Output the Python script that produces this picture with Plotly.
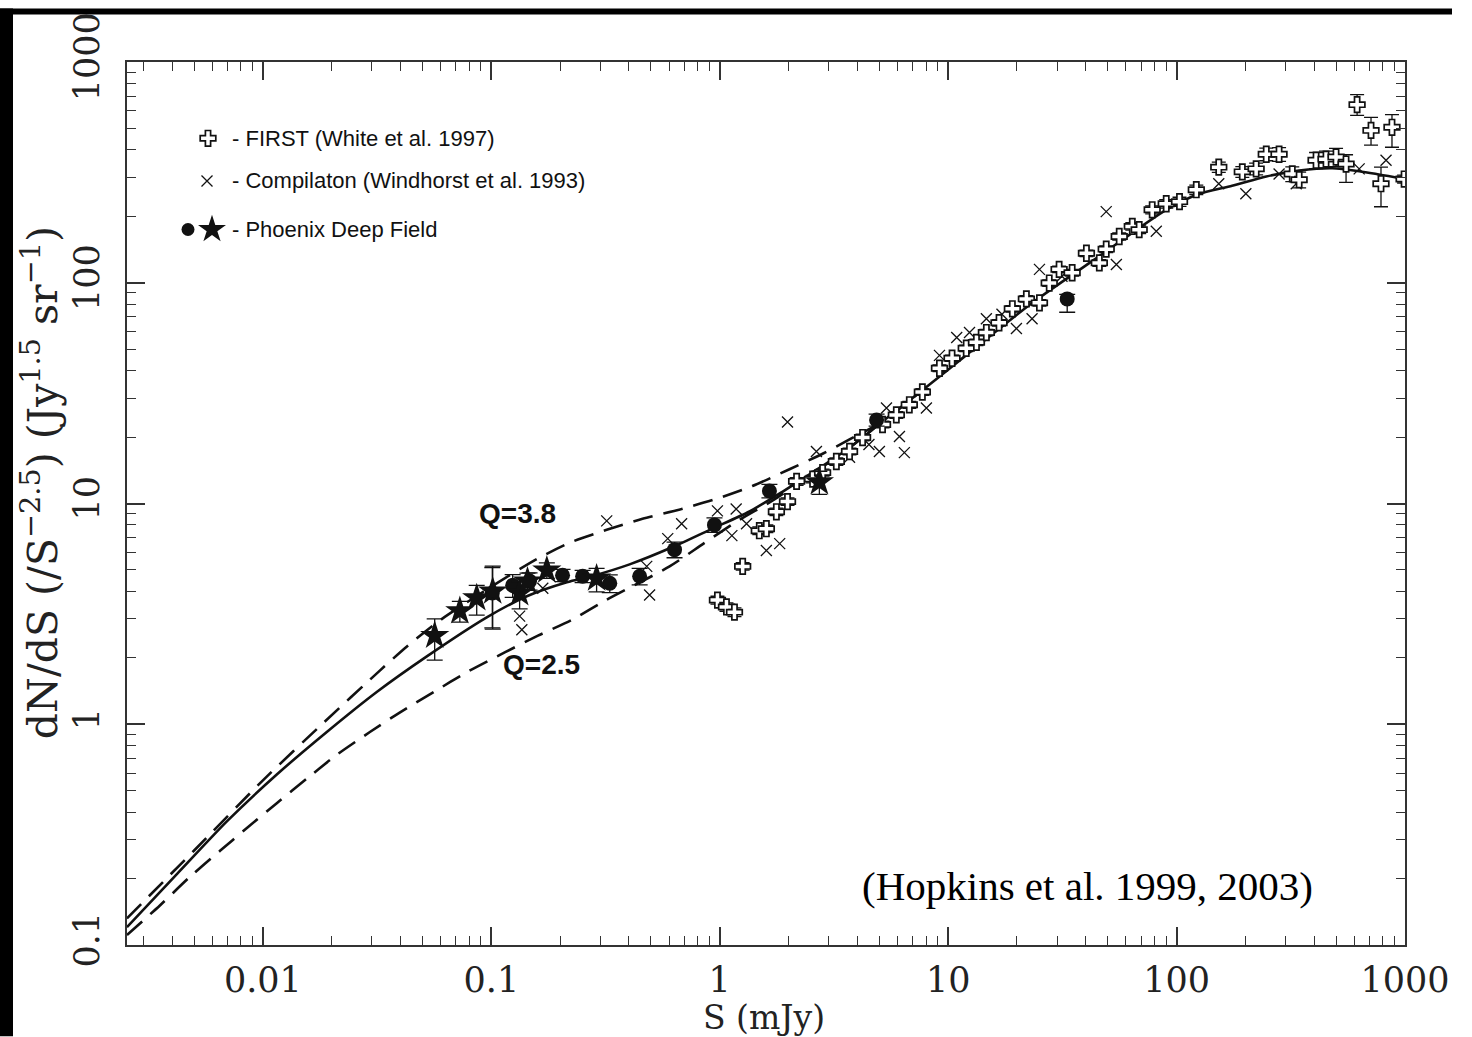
import plotly.graph_objects as go

# ---------------- data ----------------
# model curves
model_S = [0.00254, 0.00421, 0.00697, 0.0115, 0.0191, 0.0315, 0.0522, 0.0955, 0.143, 0.214,
           0.278, 0.403, 0.622, 0.93, 1.35, 1.88, 2.65, 3.70, 5.15, 7.26, 12.0, 23.3, 45.9,
           90.0, 126, 175, 247, 344, 480, 630, 1000]
model_N = [0.1205, 0.210, 0.364, 0.592, 0.925, 1.40, 2.03, 3.05, 3.80, 4.40,
           4.70, 5.30, 6.35, 7.7, 9.2, 11.3, 14.2, 17.9, 23.5, 31.0, 47.0, 81.0, 132,
           214, 253, 275, 303, 322, 330, 320, 295]

q38_S = [0.00254, 0.00500, 0.0100, 0.0185, 0.0325, 0.0427, 0.0594,
         0.100, 0.158, 0.225, 0.320, 0.459, 0.681, 0.968, 1.39, 2.02, 2.82, 3.70, 5.15, 7.26]
q38_N = [0.132, 0.268, 0.557, 1.02, 1.75, 2.25, 2.95,
         4.20, 5.60, 6.70, 7.60, 8.52, 9.44, 10.5, 12.0, 14.3, 16.8, 19.5, 23.5, 31.0]

q25_S = [0.00254, 0.00354, 0.00480, 0.00649, 0.00851, 0.0115, 0.0156, 0.0211, 0.0294, 0.0397,
         0.0560, 0.0780, 0.115, 0.160, 0.225, 0.313, 0.603, 0.849, 1.18, 1.70, 2.17, 2.65,
         3.70, 5.15]
q25_N = [0.111, 0.151, 0.204, 0.267, 0.339, 0.439, 0.568, 0.728, 0.922, 1.13,
         1.40, 1.72, 2.12, 2.52, 2.97, 3.62, 5.19, 6.58, 8.26, 10.3, 12.2, 14.0,
         17.9, 23.5]

# FIRST (White et al. 1997)
first_S = [0.977, 1.07, 1.16, 1.26, 1.49, 1.60, 1.77, 1.98, 2.17, 2.55, 2.82, 3.24, 3.70, 4.22,
           5.16, 5.93, 6.76, 7.71, 9.16, 10.4, 12.0, 13.3, 14.7, 16.7, 19.1, 22.0, 25.1, 27.7,
           30.6, 34.9, 40.3, 45.9, 49.2, 56.1, 64.0, 68.6, 78.2, 90.1, 103, 122, 153, 194,
           223, 247, 281, 321, 344, 408, 451, 499, 552, 617, 710, 785, 877, 991]
first_N = [3.65, 3.40, 3.22, 5.19, 7.53, 7.69, 9.17, 10.2, 12.6, 12.9, 13.8, 15.5, 17.2, 19.9,
           22.8, 25.2, 28.0, 32.0, 41.0, 45.5, 50.5, 53.7, 59.5, 65.9, 76.2, 84.5, 81.1, 99.7,
           115, 111, 136, 123, 142, 162, 180, 174, 214, 228, 233, 264, 334, 318,
           328, 382, 382, 311, 293, 359, 363, 371, 345, 641, 490, 281, 506, 295]
first_err_up = [0.15, 0.15, 0.15, 0.2, 0.3, 0.3, 0.35, 0.4, 0.5, 0.5, 0.5, 0.6, 0.6, 0.7,
                0.8, 0.9, 1.0, 1.1, 1.4, 1.5, 1.7, 1.8, 2.0, 2.2, 2.5, 2.8, 2.8, 3.3,
                3.8, 3.8, 4.5, 4.2, 5, 6, 7, 7, 9, 10, 11, 13, 18, 18,
                20, 25, 27, 24, 24, 30, 32, 35, 35, 70, 71, 53, 72, 12]
first_err_dn = [0.15, 0.15, 0.15, 0.2, 0.3, 0.3, 0.35, 0.4, 0.5, 0.5, 0.5, 0.6, 0.6, 0.7,
                0.8, 0.9, 1.0, 1.1, 1.4, 1.5, 1.7, 1.8, 2.0, 2.2, 2.5, 2.8, 2.8, 3.3,
                3.8, 3.8, 4.5, 4.2, 5, 6, 7, 7, 9, 10, 11, 13, 18, 18,
                20, 25, 27, 24, 24, 30, 32, 35, 60, 68, 70, 60, 95, 12]

# Compilation (Windhorst et al. 1993)
comp_S = [0.133, 0.136, 0.168, 0.320, 0.479, 0.493, 0.592, 0.681, 0.977, 1.13, 1.18, 1.31,
          1.60, 1.83, 1.98, 2.65, 3.70, 4.50, 5.00, 5.37, 6.12, 6.43, 8.03, 9.16, 10.9,
          12.4, 14.7, 17.2, 19.9, 23.3, 25.1, 31.5, 49.2, 54.5, 81.5, 153, 201, 281, 334,
          630, 826]
comp_N = [3.09, 2.68, 4.13, 8.34, 5.19, 3.85, 6.93, 8.09, 9.26, 7.15, 9.44, 8.09,
          6.12, 6.58, 23.4, 17.2, 16.2, 18.5, 17.2, 27.1, 20.1, 17.0, 27.1, 46.9, 56.5,
          59.5, 68.7, 72.0, 62.0, 68.7, 115, 107, 210, 121, 171, 281, 253, 311, 281,
          328, 359]

# Phoenix Deep Field: filled circles
pdf_c_S = [0.101, 0.124, 0.147, 0.205, 0.251, 0.330, 0.446, 0.634, 0.948, 1.65, 4.86, 33.2]
pdf_c_N = [3.93, 4.26, 4.45, 4.73, 4.68, 4.35, 4.68, 6.18, 8.0, 11.4, 23.9, 84.5]
pdf_c_up = [1.2, 0.5, 0.4, 0.3, 0.3, 0.4, 0.4, 0.5, 0.6, 0.8, 1.5, 4]
pdf_c_dn = [1.2, 0.5, 0.4, 0.3, 0.3, 0.4, 0.4, 0.5, 0.6, 0.8, 1.5, 11]

# Phoenix Deep Field: filled stars
pdf_s_S = [0.0565, 0.0728, 0.0863, 0.1014, 0.133, 0.144, 0.175, 0.289, 2.73]
pdf_s_N = [2.52, 3.26, 3.73, 4.0, 3.93, 4.44, 4.98, 4.58, 12.5]
pdf_s_up = [0.48, 0.34, 0.53, 1.2, 0.5, 0.4, 0.4, 0.5, 1.5]
pdf_s_dn = [0.57, 0.36, 0.61, 1.3, 0.6, 0.4, 0.4, 0.6, 1.5]

x_ticks = [0.01, 0.1, 1, 10, 100, 1000]
x_ticktext = ["0.01", "0.1", "1", "10", "100", "1000"]
y_ticks = [0.1, 1, 10, 100, 1000]
y_ticktext = ["0.1", "1", "10", "100", "1000"]

legend_labels = ["- FIRST (White et al. 1997)",
                 "- Compilaton (Windhorst et al. 1993)",
                 "- Phoenix Deep Field"]

# ---------------- figure ----------------
W, H = 1472, 1037
L, R, T, B = 127, 1405, 54, 945


def px(x):
    return (x - L) / (R - L)


def py(y):
    return 1 - (y - T) / (B - T)


INK = "#111111"
SERIF = "DejaVu Serif"
fig = go.Figure()

dash = "20px,11px"
curve_line = dict(color=INK, width=2.6, shape="spline", smoothing=0.7)
fig.add_trace(go.Scatter(x=q38_S, y=q38_N, mode="lines", line=dict(curve_line, dash=dash), showlegend=False))
fig.add_trace(go.Scatter(x=q25_S, y=q25_N, mode="lines", line=dict(curve_line, dash=dash), showlegend=False))
fig.add_trace(go.Scatter(x=model_S, y=model_N, mode="lines", line=curve_line, showlegend=False))

fig.add_trace(go.Scatter(x=comp_S, y=comp_N, mode="markers",
                         marker=dict(symbol="x-thin-open", size=11, color=INK, line=dict(color=INK, width=1.3)),
                         showlegend=False))
fig.add_trace(go.Scatter(x=first_S, y=first_N, mode="markers",
                         marker=dict(symbol="cross", size=13, color="white", line=dict(color=INK, width=1.7)),
                         error_y=dict(type="data", array=first_err_up, arrayminus=first_err_dn,
                                      color=INK, thickness=1.3, width=7),
                         showlegend=False))
fig.add_trace(go.Scatter(x=pdf_c_S, y=pdf_c_N, mode="markers",
                         marker=dict(symbol="circle", size=15, color=INK),
                         error_y=dict(type="data", array=pdf_c_up, arrayminus=pdf_c_dn,
                                      color=INK, thickness=1.3, width=8),
                         showlegend=False))
fig.add_trace(go.Scatter(x=pdf_s_S, y=pdf_s_N, mode="markers",
                         marker=dict(symbol="star", size=22, color=INK),
                         error_y=dict(type="data", array=pdf_s_up, arrayminus=pdf_s_dn,
                                      color=INK, thickness=1.3, width=8),
                         showlegend=False))

# legend key symbols on an overlay unit axis
leg_y = [py(131), py(174), py(223)]
fig.add_trace(go.Scatter(x=[px(208)], y=[leg_y[0]], xaxis="x2", yaxis="y2", mode="markers",
                         marker=dict(symbol="cross", size=13, color="white", line=dict(color=INK, width=1.7)),
                         showlegend=False))
fig.add_trace(go.Scatter(x=[px(207)], y=[leg_y[1]], xaxis="x2", yaxis="y2", mode="markers",
                         marker=dict(symbol="x-thin-open", size=11, color=INK, line=dict(color=INK, width=1.3)),
                         showlegend=False))
fig.add_trace(go.Scatter(x=[px(188)], y=[leg_y[2]], xaxis="x2", yaxis="y2", mode="markers",
                         marker=dict(symbol="circle", size=13, color=INK), showlegend=False))
fig.add_trace(go.Scatter(x=[px(212)], y=[leg_y[2]], xaxis="x2", yaxis="y2", mode="markers",
                         marker=dict(symbol="star", size=21, color=INK), showlegend=False))

annotations = []
for lab, yy in zip(legend_labels, leg_y):
    annotations.append(dict(x=px(230), y=yy, xref="paper", yref="paper", text=lab, showarrow=False,
                            xanchor="left", yanchor="middle",
                            font=dict(family="Liberation Sans, Arial", size=22, color=INK)))
annotations.append(dict(x=px(517), y=py(510), xref="paper", yref="paper", text="<b>Q=3.8</b>", showarrow=False,
                        xanchor="center", yanchor="middle",
                        font=dict(family="Liberation Sans, Arial", size=28, color=INK)))
annotations.append(dict(x=px(541), y=py(662), xref="paper", yref="paper", text="<b>Q=2.5</b>", showarrow=False,
                        xanchor="center", yanchor="middle",
                        font=dict(family="Liberation Sans, Arial", size=28, color=INK)))
annotations.append(dict(x=px(1087), y=py(885), xref="paper", yref="paper", text="(Hopkins et al. 1999, 2003)",
                        showarrow=False, xanchor="center", yanchor="middle",
                        font=dict(family="Liberation Serif, Times New Roman", size=41, color="black")))
annotations.append(dict(x=px(40), y=py(479), xref="paper", yref="paper",
                        text="dN/dS (/S<sup>\u22122.5</sup>) (Jy<sup>1.5</sup> sr<sup>\u22121</sup>)",
                        showarrow=False, textangle=-90, xanchor="center", yanchor="middle",
                        font=dict(family=SERIF, size=41, color="#222")))
annotations.append(dict(x=px(764), y=py(1018), xref="paper", yref="paper", text="S (mJy)",
                        showarrow=False, xanchor="center", yanchor="middle",
                        font=dict(family=SERIF, size=33, color="#222")))

# minor ticks
x_minor = [m * 10 ** d for d in range(-3, 3) for m in range(2, 10) if 0.00254 < m * 10 ** d < 1000]
y_minor = [m * 10 ** d for d in range(-1, 3) for m in range(2, 10)]

axis_common = dict(showgrid=False, zeroline=False, showline=True, linecolor="#333", linewidth=1.6,
                   ticks="inside", ticklen=18, tickwidth=1.6, tickcolor="#333", mirror="allticks",
                   tickfont=dict(family=SERIF, size=35, color="#222"))

fig.update_layout(
    width=W, height=H,
    margin=dict(l=L, r=W - R, t=T, b=H - B, pad=0),
    paper_bgcolor="white", plot_bgcolor="white",
    xaxis=dict(type="log", range=[-2.595, 3.0], tickvals=x_ticks, ticktext=x_ticktext,
               ticklabelstandoff=3,
               minor=dict(tickvals=x_minor, ticks="inside", ticklen=9, tickwidth=1.3, tickcolor="#333"),
               **axis_common),
    yaxis=dict(type="log", range=[-1, 3], tickvals=y_ticks, ticktext=y_ticktext, tickangle=-90,
               ticklabelstandoff=12,
               minor=dict(tickvals=y_minor, ticks="inside", ticklen=9, tickwidth=1.3, tickcolor="#333"),
               **axis_common),
    xaxis2=dict(overlaying="x", range=[0, 1], visible=False),
    yaxis2=dict(overlaying="y", range=[0, 1], visible=False),
    annotations=annotations,
    showlegend=False,
    shapes=[
        dict(type="rect", xref="paper", yref="paper", x0=px(0), x1=px(13), y0=py(H), y1=py(0),
             fillcolor="black", line=dict(width=0), layer="above"),
        dict(type="rect", xref="paper", yref="paper", x0=px(0), x1=px(1452), y0=py(6), y1=py(0),
             fillcolor="black", line=dict(width=0), layer="above"),
    ],
)

fig.write_html("out.html")
